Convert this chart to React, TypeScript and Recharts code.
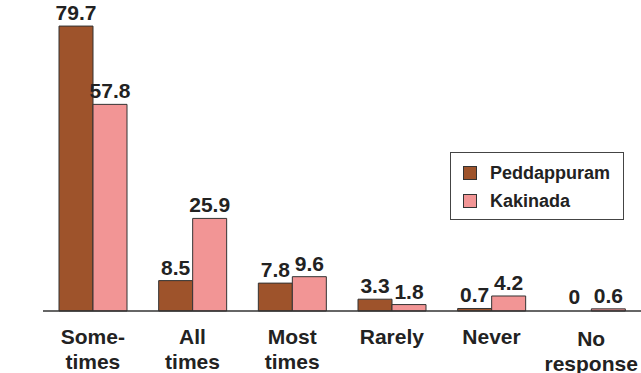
import React from "react";
import { BarChart, Bar, XAxis, YAxis, LabelList, Legend, Cell } from "recharts";

const categories = ["Some-\ntimes", "All\ntimes", "Most\ntimes", "Rarely", "Never", "No\nresponse"];
const peddappuram = [79.7, 8.5, 7.8, 3.3, 0.7, 0];
const kakinada = [57.8, 25.9, 9.6, 1.8, 4.2, 0.6];
const seriesNames = ["Peddappuram", "Kakinada"];
const seriesColors = ["#9E532B", "#F29595"];

const data = categories.map((c, i) => ({
  cat: c,
  p: peddappuram[i],
  k: kakinada[i],
}));

const FONT = '"Liberation Sans", Arial, sans-serif';

const CatTick = (props: any) => {
  const { x, y, payload, index } = props;
  const lines = String(payload.value).split("\n");
  const extra = index === categories.length - 1 ? 2 : 0;
  return (
    <g>
      {lines.map((l: string, i: number) => (
        <text
          key={i}
          x={x}
          y={y + 25 + extra + i * 25}
          textAnchor="middle"
          fontFamily={FONT}
          fontWeight="bold"
          fontSize={21}
          fill="#222"
        >
          {l}
        </text>
      ))}
    </g>
  );
};

const ValueLabel = (props: any) => {
  const { x, y, width, height, value } = props;
  if (x == null || y == null) return null;
  const top = Math.min(Number(y), Number(y) + Number(height || 0));
  return (
    <text
      x={Number(x) + Number(width) / 2}
      y={top - 6}
      textAnchor="middle"
      fontFamily={FONT}
      fontWeight="bold"
      fontSize={21}
      fill="#222"
    >
      {String(value)}
    </text>
  );
};

const LegendBox = () => (
  <div
    style={{
      width: 174,
      height: 68,
      border: "1px solid #444",
      boxSizing: "border-box",
      position: "relative",
      background: "#fff",
      fontFamily: FONT,
      fontWeight: "bold",
      fontSize: 18,
      color: "#222",
    }}
  >
    {seriesNames.map((n, i) => (
      <div key={n} style={{ position: "absolute", left: 12, top: 10 + i * 28, height: 20, display: "flex", alignItems: "center" }}>
        <span
          style={{
            display: "inline-block",
            width: 14,
            height: 14,
            background: seriesColors[i],
            border: "1px solid #333",
            boxSizing: "border-box",
            marginRight: 13,
          }}
        />
        <span style={{ lineHeight: "20px" }}>{n}</span>
      </div>
    ))}
  </div>
);

export default function App() {
  return (
    <div style={{ position: "absolute", left: 0, top: 0, background: "#fff" }}>
      <style>{`body{margin:0;background:#fff}`}</style>
      <BarChart
        width={641}
        height={373}
        data={data}
        margin={{ top: 25, right: 0, left: 43, bottom: 0 }}
        barSize={34}
        barGap={0}
      >
        <XAxis
          dataKey="cat"
          axisLine={{ stroke: "#333", strokeWidth: 1.5 }}
          tickLine={false}
          interval={0}
          tick={<CatTick />}
          height={62}
        />
        <YAxis hide domain={[0, 80]} />
        <Legend
          verticalAlign="middle"
          align="center"
          layout="horizontal"
          content={() => <LegendBox />}
          wrapperStyle={{ left: 450, top: 152, width: 174, height: 68 }}
        />
        <Bar dataKey="p" name={seriesNames[0]} fill={seriesColors[0]} stroke="#333" strokeWidth={1} minPointSize={(v: any) => (Number(v) === 0 ? 1 : 0)} isAnimationActive={false}>
          {peddappuram.map((v, i) => (
            <Cell key={i} fill={v === 0 ? "none" : seriesColors[0]} stroke={v === 0 ? "none" : "#333"} />
          ))}
          <LabelList dataKey="p" content={<ValueLabel />} />
        </Bar>
        <Bar dataKey="k" name={seriesNames[1]} fill={seriesColors[1]} stroke="#333" strokeWidth={1} isAnimationActive={false}>
          <LabelList dataKey="k" content={<ValueLabel />} />
        </Bar>
      </BarChart>
    </div>
  );
}
